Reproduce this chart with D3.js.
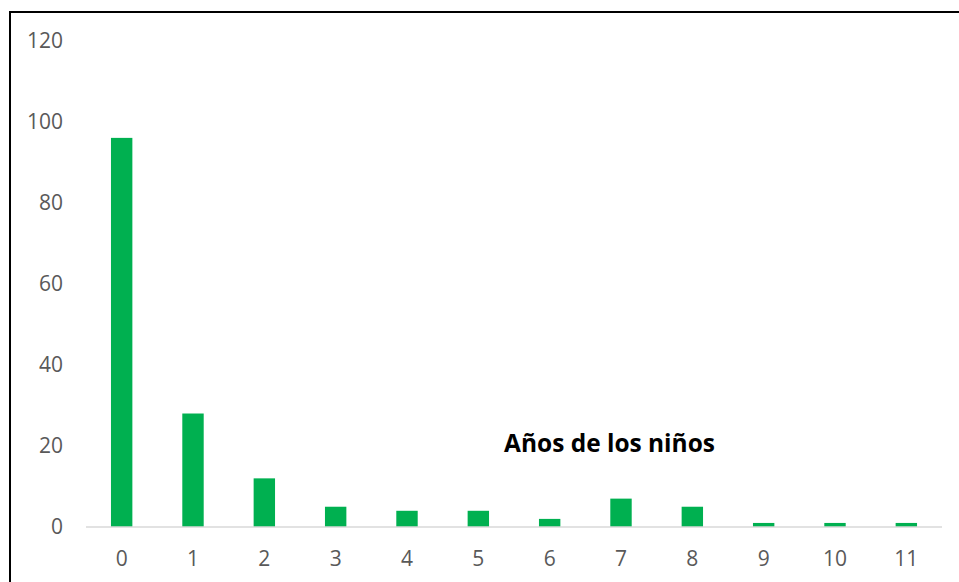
<!DOCTYPE html>
<html><head><meta charset="utf-8">
<script src="https://cdn.jsdelivr.net/npm/d3@7"></script>
<style>body{margin:0;background:#fff;}svg{display:block;}</style>
</head><body>
<svg id="c" width="959" height="582"></svg>
<script>
const categories = ["0","1","2","3","4","5","6","7","8","9","10","11"];
const values = [96, 28, 12, 5, 4, 4, 2, 7, 5, 1, 1, 1];
const yTicks = [0, 20, 40, 60, 80, 100, 120];
const titleText = "Años de los niños";

const svg = d3.select("#c");
const W = 959, H = 582;
svg.append("rect").attr("width", W).attr("height", H).attr("fill", "#fff");

// frame (top and left edges visible)
svg.append("line").attr("x1", 9).attr("x2", W).attr("y1", 12).attr("y2", 12).attr("stroke", "#000").attr("stroke-width", 2);
svg.append("line").attr("x1", 10).attr("x2", 10).attr("y1", 11).attr("y2", H).attr("stroke", "#000").attr("stroke-width", 2);

const x = d3.scaleBand().domain(categories).range([86, 942]).paddingInner(0.7).paddingOuter(0.35);
const y = d3.scaleLinear().domain([0, 120]).range([527, 40.6]);

const font = "'Open Sans', 'Liberation Sans', sans-serif";
const tickSize = 21;

// bars
svg.append("g").selectAll("rect").data(values).join("rect")
  .attr("x", (d, i) => x(categories[i]))
  .attr("width", x.bandwidth())
  .attr("y", d => y(d))
  .attr("height", d => y(0) - y(d))
  .attr("fill", "#00B050");

// y axis labels
const yAxis = d3.axisLeft(y).tickValues(yTicks).tickSize(0).tickPadding(0);
const gy = svg.append("g").attr("transform", "translate(63,0)").call(yAxis);
gy.select(".domain").remove();
gy.selectAll("text").attr("font-family", font).attr("font-size", tickSize).attr("fill", "#595959");

// x axis
const xAxis = d3.axisBottom(x).tickSize(0).tickPadding(24);
const gx = svg.append("g").attr("transform", "translate(0,527)").call(xAxis);
gx.select(".domain").attr("stroke", "#d9d9d9").attr("stroke-width", 1.5).attr("d", "M86,0H942");
gx.selectAll("text").attr("font-family", font).attr("font-size", tickSize).attr("fill", "#595959");

// title inside plot
const t = svg.append("text").attr("x", 609.5).attr("y", 452).attr("text-anchor", "middle")
  .attr("font-family", font).attr("font-weight", "bold").attr("font-size", 22).attr("fill", "#000")
  .text(titleText);
const len = t.node().getComputedTextLength();
t.attr("font-size", 22 * 211 / len);
</script>
</body></html>
